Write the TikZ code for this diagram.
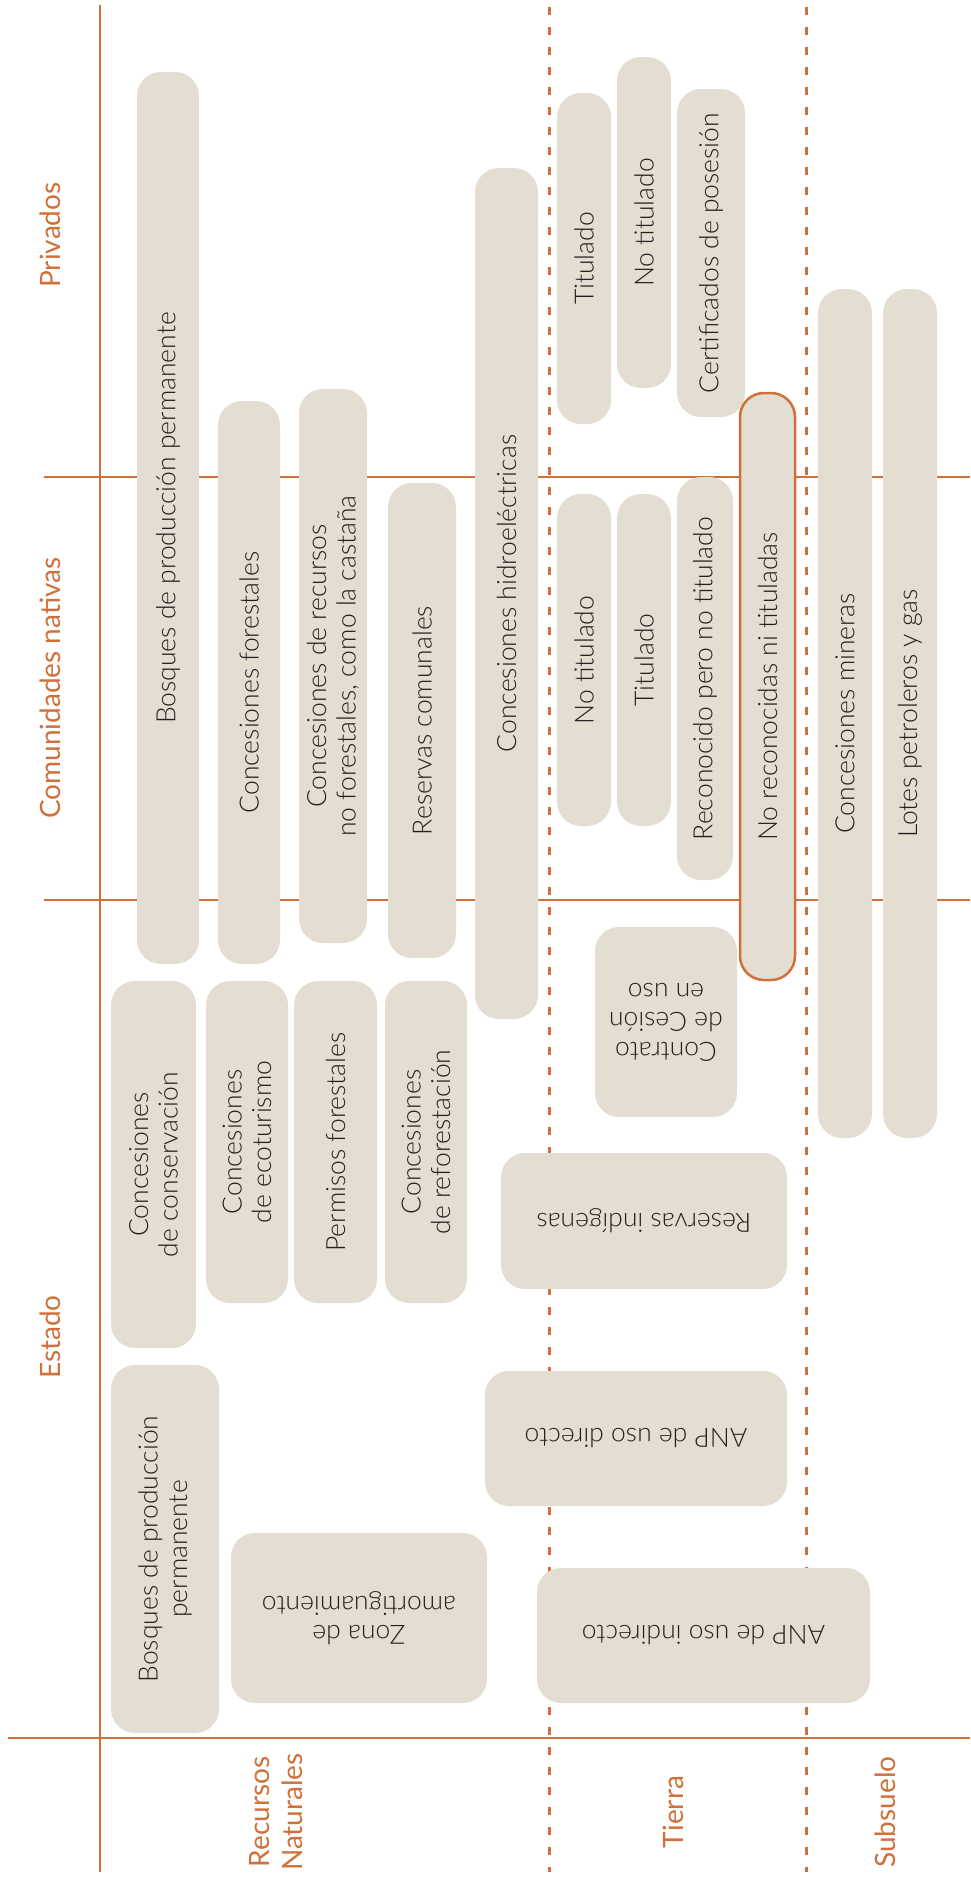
\documentclass[tikz,border=0pt]{standalone}
\usepackage{fontspec}
\setmainfont{Lato}
\newfontfamily\ligera{Lato Light}
\definecolor{terra}{RGB}{208,112,58}
\definecolor{arena}{RGB}{227,222,209}
\definecolor{tinta}{RGB}{35,31,32}

\begin{document}
\begin{tikzpicture}[x=1pt,y=-1pt,
  caja/.style={fill=arena, rounded corners=24pt, inner sep=0pt, align=center,
    text=tinta, font=\ligera\fontsize{26.5}{29.5}\selectfont},
  vcaja/.style={caja, rotate=90},
  icaja/.style={caja, rotate=180},
  titulo/.style={text=terra, rotate=90, align=center, font=\fontsize{28}{33}\selectfont},
  eje/.style={draw=terra, line width=2pt},
  division/.style={draw=terra, line width=3pt, dash pattern=on 8pt off 12pt}]
\useasboundingbox (0,0) rectangle (970,1880);

% lineas de la grilla
\draw [eje] (100,5) -- (100,1872);
\draw [eje] (44,477) -- (970,477);
\draw [eje] (44,900) -- (970,900);
\draw [eje] (8,1738) -- (970,1738);
\draw [division] (549,7) -- (549,1872);
\draw [division] (806,7) -- (806,1872);

% titulos de filas y columnas
\node [titulo] (privados) at (50,235) {Privados};
\node [titulo] (comunidades) at (50,688) {Comunidades nativas};
\node [titulo] (estado) at (50,1337) {Estado};
\node [titulo] (recursos) at (276,1812) {Recursos\\Naturales};
\node [titulo] (tierra) at (673,1812) {Tierra};
\node [titulo] (subsuelo) at (885,1812) {Subsuelo};

% recursos naturales
\node [vcaja, minimum width=892pt, minimum height=62pt] (bosqueperm) at (168,518) {Bosques de producción permanente};
\node [vcaja, minimum width=563pt, minimum height=62pt] (concforest) at (249,682.5) {Concesiones forestales};
\node [vcaja, minimum width=554pt, minimum height=68pt] (concnoforest) at (333,666) {Concesiones de recursos\\no forestales, como la castaña};
\node [vcaja, minimum width=475pt, minimum height=68pt] (rescomunal) at (422,720.5) {Reservas comunales};
\node [vcaja, minimum width=851pt, minimum height=63pt] (conchidro) at (506.5,593.5) {Concesiones hidroeléctricas};
\node [vcaja, minimum width=367pt, minimum height=85pt] (concconserv) at (153.5,1164.5) {Concesiones\\de conservación};
\node [vcaja, minimum width=322pt, minimum height=82pt] (concecotur) at (247,1142) {Concesiones\\de ecoturismo};
\node [vcaja, minimum width=322pt, minimum height=83pt] (permforest) at (335.5,1142) {Permisos forestales};
\node [vcaja, minimum width=322pt, minimum height=82pt] (concreforest) at (426,1142) {Concesiones\\de reforestación};
\node [vcaja, minimum width=368pt, minimum height=108pt] (bosqueestado) at (165,1549) {Bosques de producción\\permanente};
\node [icaja, minimum width=256pt, minimum height=170pt] (zona) at (359,1618) {Zona de\\amortiguamiento};

% tierra
\node [vcaja, minimum width=331pt, minimum height=54pt] (titpriv) at (584,258.5) {Titulado};
\node [vcaja, minimum width=331pt, minimum height=54pt] (notitpriv) at (644,222.5) {No titulado};
\node [vcaja, minimum width=328pt, minimum height=68pt] (certif) at (711,253) {Certificados de posesión};
\node [vcaja, minimum width=587pt, minimum height=55pt, draw=terra, line width=2.5pt] (noreconoc) at (767.5,686.5) {No reconocidas ni tituladas};
\node [vcaja, minimum width=332pt, minimum height=54pt] (notitcom) at (584,660) {No titulado};
\node [vcaja, minimum width=332pt, minimum height=54pt] (titcom) at (644,660) {Titulado};
\node [vcaja, minimum width=403pt, minimum height=56pt] (reconoc) at (705,678.5) {Reconocido pero no titulado};
\node [icaja, minimum width=142pt, minimum height=190pt] (contrato) at (666,1022) {Contrato\\de Cesión\\en uso};
\node [icaja, minimum width=286pt, minimum height=136pt] (resindig) at (644,1221) {Reservas indígenas};
\node [icaja, minimum width=302pt, minimum height=135pt] (anpdir) at (636,1438.5) {ANP de uso directo};
\node [icaja, minimum width=333pt, minimum height=135pt] (anpind) at (703.5,1635.5) {ANP de uso indirecto};

% subsuelo
\node [vcaja, minimum width=849pt, minimum height=54pt] (concminera) at (845,713.5) {Concesiones mineras};
\node [vcaja, minimum width=849pt, minimum height=54pt] (lotes) at (910,713.5) {Lotes petroleros y gas};

\end{tikzpicture}
\end{document}
